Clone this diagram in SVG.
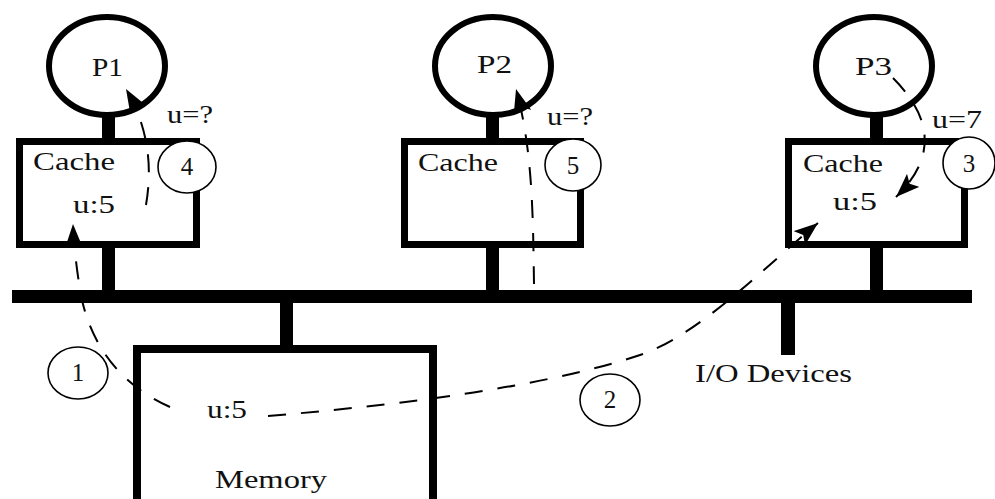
<svg xmlns="http://www.w3.org/2000/svg" width="995" height="499" viewBox="0 0 995 499">
<defs>
<style>
.proc{fill:#fff;stroke:#000;stroke-width:6}
.box{fill:#fff;stroke:#000;stroke-width:7}
.mem{fill:#fff;stroke:#000;stroke-width:8}
.bar{fill:#000}
.step{fill:#fff;stroke:#000;stroke-width:1.6}
.t{font-family:"Liberation Serif","Times New Roman",serif;font-size:25px;fill:#111}
.n{font-family:"Liberation Serif","Times New Roman",serif;font-size:25px;fill:#111;text-anchor:middle}
.dash{fill:none;stroke:#000;stroke-width:2;stroke-dasharray:18 15}
</style>
<marker id="ah" markerUnits="userSpaceOnUse" markerWidth="26" markerHeight="18" refX="24" refY="9" orient="auto">
<path d="M0,0 L24,9 L0,18 L5,9 Z" fill="#000"/>
</marker>
</defs>
<rect width="995" height="499" fill="#fff"/>
<g id="bus">
<rect class="bar" x="12" y="290" width="960" height="13"/>
</g>
<g id="memory">
<rect class="bar" x="280" y="300" width="13" height="47"/>
<rect class="mem" x="137" y="349" width="296" height="200"/>
<text class="t" x="207" y="418" textLength="40" lengthAdjust="spacingAndGlyphs">u:5</text>
<text class="t" x="215" y="488" textLength="112" lengthAdjust="spacingAndGlyphs">Memory</text>
</g>
<g id="io">
<rect class="bar" x="781" y="300" width="14" height="55"/>
<text class="t" x="695" y="382" textLength="157" lengthAdjust="spacingAndGlyphs">I/O Devices</text>
</g>
<g id="p1">
<rect class="bar" x="102" y="110" width="13" height="32"/>
<rect class="bar" x="102" y="244" width="13" height="48"/>
<rect class="box" x="19.5" y="141.5" width="177" height="103"/>
<ellipse class="proc" cx="107" cy="66" rx="58" ry="49"/>
<text class="t" x="92" y="76" textLength="31" lengthAdjust="spacingAndGlyphs">P1</text>
<text class="t" x="33" y="170" textLength="82" lengthAdjust="spacingAndGlyphs">Cache</text>
<text class="t" x="73" y="213" textLength="42" lengthAdjust="spacingAndGlyphs">u:5</text>
<text class="t" x="167" y="123" textLength="46" lengthAdjust="spacingAndGlyphs">u=?</text>
</g>
<g id="p2">
<rect class="bar" x="486" y="110" width="13" height="32"/>
<rect class="bar" x="486" y="244" width="13" height="48"/>
<rect class="box" x="404.5" y="141.5" width="176" height="103"/>
<ellipse class="proc" cx="493" cy="66" rx="58" ry="49"/>
<text class="t" x="477" y="73" textLength="35" lengthAdjust="spacingAndGlyphs">P2</text>
<text class="t" x="418" y="171" textLength="80" lengthAdjust="spacingAndGlyphs">Cache</text>
<text class="t" x="547" y="125" textLength="46" lengthAdjust="spacingAndGlyphs">u=?</text>
</g>
<g id="p3">
<rect class="bar" x="870" y="110" width="13" height="32"/>
<rect class="bar" x="870" y="244" width="13" height="48"/>
<rect class="box" x="788.5" y="141.5" width="176" height="103"/>
<ellipse class="proc" cx="874" cy="66" rx="58" ry="49"/>
<text class="t" x="855" y="75" textLength="37" lengthAdjust="spacingAndGlyphs">P3</text>
<text class="t" x="803" y="172" textLength="80" lengthAdjust="spacingAndGlyphs">Cache</text>
<text class="t" x="833" y="210" textLength="44" lengthAdjust="spacingAndGlyphs">u:5</text>
<text class="t" x="932" y="128" textLength="50" lengthAdjust="spacingAndGlyphs">u=7</text>
</g>
<g id="step1">
<ellipse class="step" cx="78" cy="373" rx="30" ry="26"/>
<text class="n" x="78" y="381">1</text>
</g>
<g id="step2">
<ellipse class="step" cx="610" cy="400" rx="30" ry="26"/>
<text class="n" x="610" y="408">2</text>
</g>
<g id="step3">
<ellipse class="step" cx="969" cy="163" rx="26" ry="26"/>
<text class="n" x="969" y="172">3</text>
</g>
<g id="step4">
<ellipse class="step" cx="187" cy="167" rx="29" ry="26"/>
<text class="n" x="187" y="175">4</text>
</g>
<g id="step5">
<ellipse class="step" cx="573" cy="165" rx="28" ry="26"/>
<text class="n" x="573" y="174">5</text>
</g>
<g id="connectors">
<path class="dash" d="M170,407 C120,385 92,345 82,300 C78,280 74,250 73,224" marker-end="url(#ah)"/>
<path class="dash" d="M268,416 Q520,395 640,355 C700,335 770,262 818,223" marker-end="url(#ah)"/>
<path class="dash" d="M893,78 Q955,140 896,197" marker-end="url(#ah)"/>
<path class="dash" d="M146,205 C152,170 150,130 126,89" marker-end="url(#ah)"/>
<path class="dash" d="M534,284 C533,220 533,150 516,89" marker-end="url(#ah)"/>
</g>
</svg>
